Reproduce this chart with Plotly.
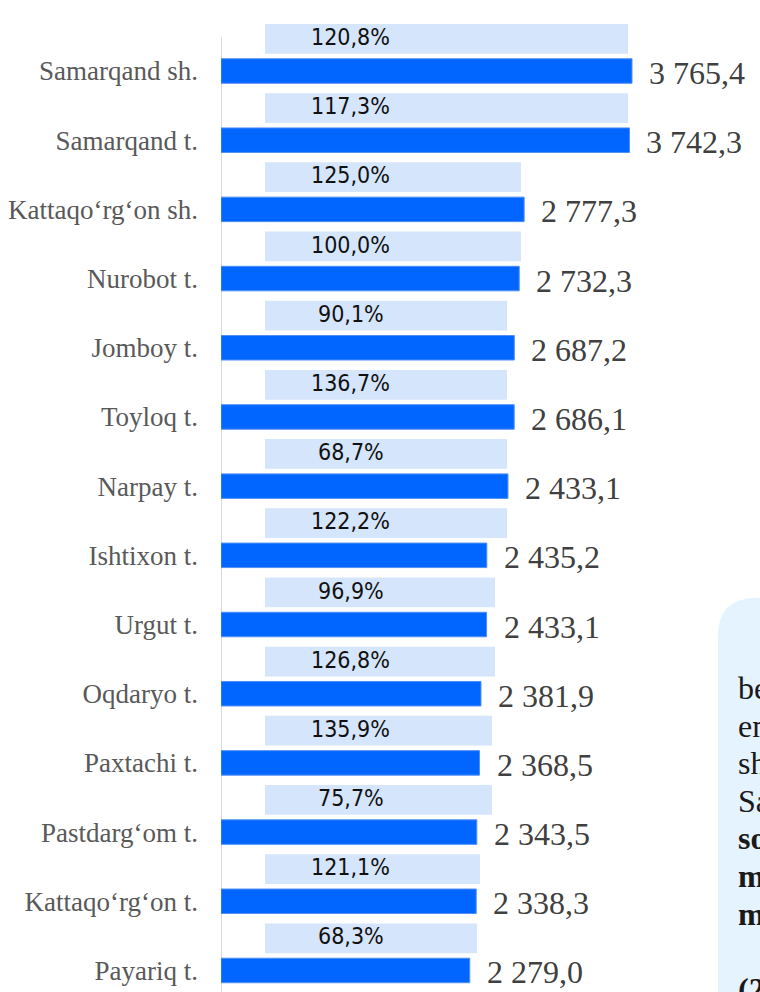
import plotly.graph_objects as go

# districts, top to bottom
districts = [
    "Samarqand sh.", "Samarqand t.", "Kattaqo‘rg‘on sh.", "Nurobot t.",
    "Jomboy t.", "Toyloq t.", "Narpay t.", "Ishtixon t.", "Urgut t.",
    "Oqdaryo t.", "Paxtachi t.", "Pastdarg‘om t.", "Kattaqo‘rg‘on t.",
    "Payariq t.",
]
# printed values (ming so'm)
salary = [3765.4, 3742.3, 2777.3, 2732.3, 2687.2, 2686.1, 2433.1, 2435.2,
          2433.1, 2381.9, 2368.5, 2343.5, 2338.3, 2279.0]
# dark bar lengths as drawn (Narpay's bar is drawn longer than its label)
bar_len = [3765.4, 3742.3, 2777.3, 2732.3, 2687.2, 2686.1, 2629.0, 2435.2,
           2433.1, 2381.9, 2368.5, 2343.5, 2338.3, 2279.0]
# growth rate, %
growth = [120.8, 117.3, 125.0, 100.0, 90.1, 136.7, 68.7, 122.2, 96.9,
          126.8, 135.9, 75.7, 121.1, 68.3]
# right end of the pale background bars
pale_end = [3729, 3729, 2748, 2748, 2620, 2620, 2620, 2620, 2510, 2510,
            2483, 2483, 2373, 2345]

box_lines = ["berilgan", "eng", "shahri", "Samarqand", "<b>so‘m</b>",
             "<b>ming</b>", "<b>ming</b>", "", "<b>(2024</b>"]

PALE_START = 403
PCT_X = 1190
W, H = 760, 992
LEFT = 221
PX_PER_UNIT = 0.10915
ROW = 69.19
FIRST_ROW = 71


def fmt(v, suffix=""):
    s = f"{v:,.1f}".replace(",", " ").replace(".", ",")
    return s + suffix


fig = go.Figure()

fig.add_trace(go.Bar(
    y=districts,
    x=[e - PALE_START for e in pale_end],
    base=PALE_START,
    orientation="h",
    marker=dict(color="#D5E5FB", line=dict(width=0)),
    width=0.43,
    offset=-0.68,
    hoverinfo="skip",
))
fig.add_trace(go.Bar(
    y=districts,
    x=bar_len,
    orientation="h",
    marker=dict(color="#0066FF", line=dict(width=1, color="#4F8FF5")),
    width=0.354,
    offset=-0.177,
    hoverinfo="skip",
))

annotations = []
for d, v, b in zip(districts, salary, bar_len):
    annotations.append(dict(
        x=b, y=d, xref="x", yref="y", text=fmt(v),
        xanchor="left", yanchor="middle", xshift=15, yshift=-2,
        showarrow=False,
        font=dict(family="Liberation Serif", size=32, color="#404040"),
    ))
for d, g in zip(districts, growth):
    annotations.append(dict(
        x=PCT_X, y=d, xref="x", yref="y", text=fmt(g, "%"),
        xanchor="center", yanchor="middle", yshift=34,
        showarrow=False,
        font=dict(family="DejaVu Sans Condensed, DejaVu Sans", size=23,
                  color="#111111"),
    ))

# text box cut off at the bottom right
def px_x(px):
    return (px - LEFT) / (W - LEFT)


def px_y(py):
    return 1 - py / H


for i, line in enumerate(box_lines):
    if not line:
        continue
    annotations.append(dict(
        x=px_x(736), y=px_y(688 + i * 37.6), xref="paper", yref="paper",
        text=line, xanchor="left", yanchor="middle", showarrow=False,
        font=dict(family="Liberation Serif", size=32, color="#1a1a1a"),
    ))

box_path = (
    f"M {px_x(718)},{px_y(1000)} L {px_x(718)},{px_y(636)} "
    f"Q {px_x(718)},{px_y(598)} {px_x(756)},{px_y(598)} "
    f"L {px_x(800)},{px_y(598)} L {px_x(800)},{px_y(1000)} Z"
)

shapes = [
    dict(type="line", xref="x", yref="paper", x0=0, x1=0, y0=0,
         y1=px_y(37), line=dict(color="#D9D9D9", width=2), layer="below"),
    dict(type="path", xref="paper", yref="paper", path=box_path,
         fillcolor="#E5F3FE", line=dict(width=0), layer="below"),
]

y_top = -FIRST_ROW / ROW
y_bot = (H - FIRST_ROW) / ROW

fig.update_layout(
    template="none",
    width=W,
    height=H,
    margin=dict(l=LEFT, r=0, t=0, b=0),
    paper_bgcolor="white",
    plot_bgcolor="white",
    barmode="overlay",
    showlegend=False,
    xaxis=dict(visible=False, range=[0, (W - LEFT) / PX_PER_UNIT],
               automargin=False),
    yaxis=dict(
        type="category",
        range=[y_bot, y_top],
        showgrid=False,
        showline=False,
        zeroline=False,
        ticks="",
        ticklabelstandoff=22,
        automargin=False,
        tickfont=dict(family="Liberation Serif", size=27, color="#595959"),
    ),
    annotations=annotations,
    shapes=shapes,
)

fig.write_html(
    "out.html",
    config={"displayModeBar": False},
    post_script="document.body.style.margin='0';",
)
